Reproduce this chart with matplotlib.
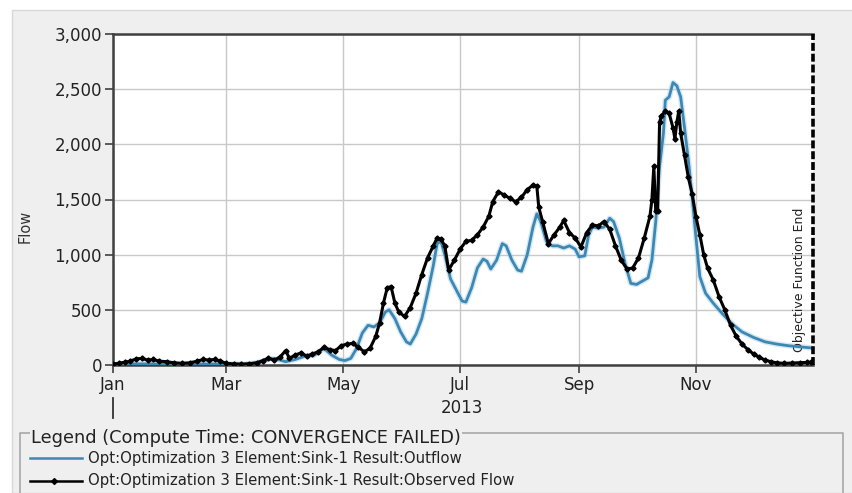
import numpy as np
import matplotlib
matplotlib.use("Agg")
import matplotlib.pyplot as plt
import matplotlib.dates as mdates
from matplotlib.patches import Rectangle
from matplotlib.lines import Line2D

plt.rcParams['font.family'] = ['DejaVu Sans']

# Observed flow (day of year, value)
obs_day = [0, 3, 6, 9, 12, 15, 18, 21, 24, 28, 32, 36, 40, 44, 47, 50, 53, 56, 59, 63,
           67, 71, 75, 78, 81, 84, 87, 90, 92, 95, 98, 101, 104, 107, 110, 113, 116, 119,
           122, 125, 128, 131, 134, 137, 139, 141, 143, 145, 147, 149, 152, 155, 158, 161,
           164, 167, 169, 171, 173, 175, 178, 181, 184, 187, 190, 193, 196, 198, 201, 204,
           207, 210, 213, 216, 219, 221, 222, 224, 227, 230, 233, 235, 238, 241, 244, 247,
           250, 253, 256, 259, 262, 265, 268, 271, 274, 277, 280, 281, 282, 283, 284, 285,
           286, 288, 290, 292, 293, 294, 295, 296, 298, 300, 302, 304, 306, 308, 310, 313,
           316, 319, 322, 325, 328, 331, 334, 337, 340, 343, 346, 350, 354, 358, 362, 364]
obs_val = [10, 15, 25, 35, 55, 60, 45, 50, 35, 30, 20, 15, 20, 35, 50, 45, 50, 35, 15, 10,
           8, 12, 20, 40, 60, 45, 70, 130, 60, 90, 110, 80, 100, 120, 160, 140, 130, 175,
           190, 195, 160, 120, 150, 260, 380, 560, 700, 710, 560, 480, 440, 520, 650, 820,
           970, 1080, 1150, 1140, 1080, 860, 950, 1050, 1120, 1130, 1180, 1250, 1350, 1480, 1570, 1540,
           1510, 1480, 1520, 1590, 1630, 1620, 1430, 1300, 1100, 1180, 1250, 1310, 1200, 1150, 1070, 1200,
           1270, 1260, 1300, 1230, 1080, 950, 870, 880, 970, 1150, 1350, 1500, 1800, 1400, 1400, 2200,
           2260, 2300, 2280, 2150, 2050, 2200, 2300, 2100, 1900, 1700, 1550, 1340, 1180, 1000, 880, 770,
           620, 500, 360, 260, 190, 140, 100, 70, 45, 30, 20, 15, 18, 20, 25, 25]

# Simulated outflow (day of year, value)
out_day = [0, 10, 20, 30, 40, 50, 60, 70, 78, 82, 86, 90, 95, 100, 105, 110, 114, 118, 121,
           124, 127, 130, 133, 136, 139, 142, 144, 147, 150, 153, 155, 158, 161, 164, 167, 169,
           171, 173, 176, 179, 182, 184, 187, 190, 193, 195, 197, 200, 203, 205, 208, 211, 213,
           216, 219, 221, 223, 226, 229, 232, 235, 238, 241, 243, 246, 248, 250, 253, 256, 259,
           261, 264, 267, 270, 273, 276, 279, 281, 283, 285, 287, 288, 290, 292, 294, 296, 298,
           300, 302, 304, 306, 309, 313, 318, 323, 328, 334, 340, 346, 352, 358, 364]
out_val = [5, 10, 10, 8, 8, 10, 8, 8, 30, 60, 50, 30, 50, 80, 90, 150, 90, 50, 40,
           60, 150, 290, 360, 345, 380, 480, 500, 420, 300, 210, 190, 280, 420, 650, 900, 1100,
           1120, 1000, 780, 680, 580, 570, 700, 880, 960, 940, 870, 950, 1100, 1080, 950, 860, 850,
           1000, 1250, 1370, 1300, 1120, 1080, 1080, 1060, 1080, 1050, 980, 990, 1180, 1250, 1240, 1250, 1330,
           1300, 1150, 920, 740, 730, 760, 790, 950, 1300, 1800, 2100, 2400, 2430, 2560, 2530, 2430, 2150,
           1860, 1520, 1150, 800, 650, 560, 460, 370, 300, 250, 210, 190, 175, 165, 155]

y_ticks = [0, 500, 1000, 1500, 2000, 2500, 3000]
month_ticks = ['2013-01-01', '2013-03-01', '2013-05-01', '2013-07-01', '2013-09-01', '2013-11-01']

start = np.datetime64('2013-01-01')
obs_t = start + np.array(obs_day).astype('timedelta64[D]')
out_t = start + np.array(out_day).astype('timedelta64[D]')

W, H = 853, 493
fig = plt.figure(figsize=(W / 100, H / 100), dpi=100)
fig.patch.set_facecolor('white')
fig.add_artist(Rectangle((12 / W, 0), 1 - 12 / W, 1 - 10 / H, transform=fig.transFigure,
                         facecolor='#efefef', edgecolor='#d8d8d8', lw=1, zorder=0))

ax = fig.add_axes([113 / W, 1 - 365 / H, 700 / W, 331 / H])
ax.set_facecolor('white')

ax.plot(out_t, out_val, color='#a9d3ea', lw=4.0, alpha=0.5, zorder=3, solid_joinstyle='round')
ax.plot(out_t, out_val, color='#3d88b3', lw=2.0, zorder=4, solid_joinstyle='round')
ax.plot(obs_t, obs_val, color='black', lw=2.2, marker='D', markersize=2.6, zorder=5,
        solid_joinstyle='round')

ax.set_xlim(np.datetime64('2013-01-01'), np.datetime64('2014-01-01'))
ax.set_ylim(0, 3000)
ax.set_yticks(y_ticks)
ax.set_yticklabels([f"{v:,}" for v in y_ticks])
ax.set_xticks([np.datetime64(m) for m in month_ticks])
ax.xaxis.set_major_formatter(mdates.DateFormatter('%b'))
ax.grid(True, color='#c8c8c8', lw=1.0)
ax.set_axisbelow(True)

for s in ['left', 'bottom', 'top']:
    ax.spines[s].set_color('#404040')
    ax.spines[s].set_linewidth(1.8)
ax.spines['right'].set_visible(False)
ax.tick_params(axis='both', direction='out', length=6, width=1.2, color='#404040',
               labelsize=12, labelcolor='#222222')
ax.tick_params(axis='x', pad=2)
ax.tick_params(axis='y', pad=2)

fig.text(25 / W, 1 - 226 / H, 'Flow', rotation=90, ha='center', va='center',
         fontsize=10.5, color='#333333')

# Objective function end marker at the right edge
ax.axvline(np.datetime64('2014-01-01'), color='black', lw=2.6, ls=(0, (2.2, 0.8)),
           zorder=6, clip_on=False)
ax.text(0.981, 0.257, 'Objective Function End', transform=ax.transAxes, rotation=90,
        ha='center', va='center', fontsize=9, color='#222222')

# Year label under the month axis
fig.add_artist(Line2D([113 / W, 113 / W], [1 - 398 / H, 1 - 418 / H], color='#333333',
                      lw=1.3, transform=fig.transFigure))
fig.text(462 / W, 1 - 408 / H, '2013', ha='center', va='center', fontsize=12, color='#222222')

# Legend panel
box_l, box_r, box_t = 20 / W, 843 / W, 1 - 433 / H
fig.add_artist(Line2D([box_l, box_l, box_r, box_r], [0, box_t, box_t, 0], color='#a8a8a8',
                      lw=1.2, transform=fig.transFigure, zorder=1))
fig.text(31 / W, 1 - 438 / H, 'Legend (Compute Time: CONVERGENCE FAILED)', ha='left',
         va='center', fontsize=12.8, color='#222222', zorder=2,
         bbox=dict(facecolor='#efefef', edgecolor='none', pad=1.0))

y1, y2 = 1 - 458 / H, 1 - 481 / H
fig.add_artist(Line2D([30 / W, 82 / W], [y1, y1], color='#3d88b3', lw=1.8,
                      transform=fig.transFigure))
fig.add_artist(Line2D([30 / W, 82 / W], [y2, y2], color='black', lw=1.8,
                      transform=fig.transFigure))
fig.add_artist(Line2D([54 / W], [y2], color='black', marker='D', markersize=3,
                      transform=fig.transFigure))
fig.text(88 / W, y1, 'Opt:Optimization 3 Element:Sink-1 Result:Outflow', ha='left',
         va='center', fontsize=10.7, color='#222222')
fig.text(88 / W, y2, 'Opt:Optimization 3 Element:Sink-1 Result:Observed Flow', ha='left',
         va='center', fontsize=10.7, color='#222222')

fig.savefig('out.png', dpi=100, facecolor=fig.get_facecolor())
